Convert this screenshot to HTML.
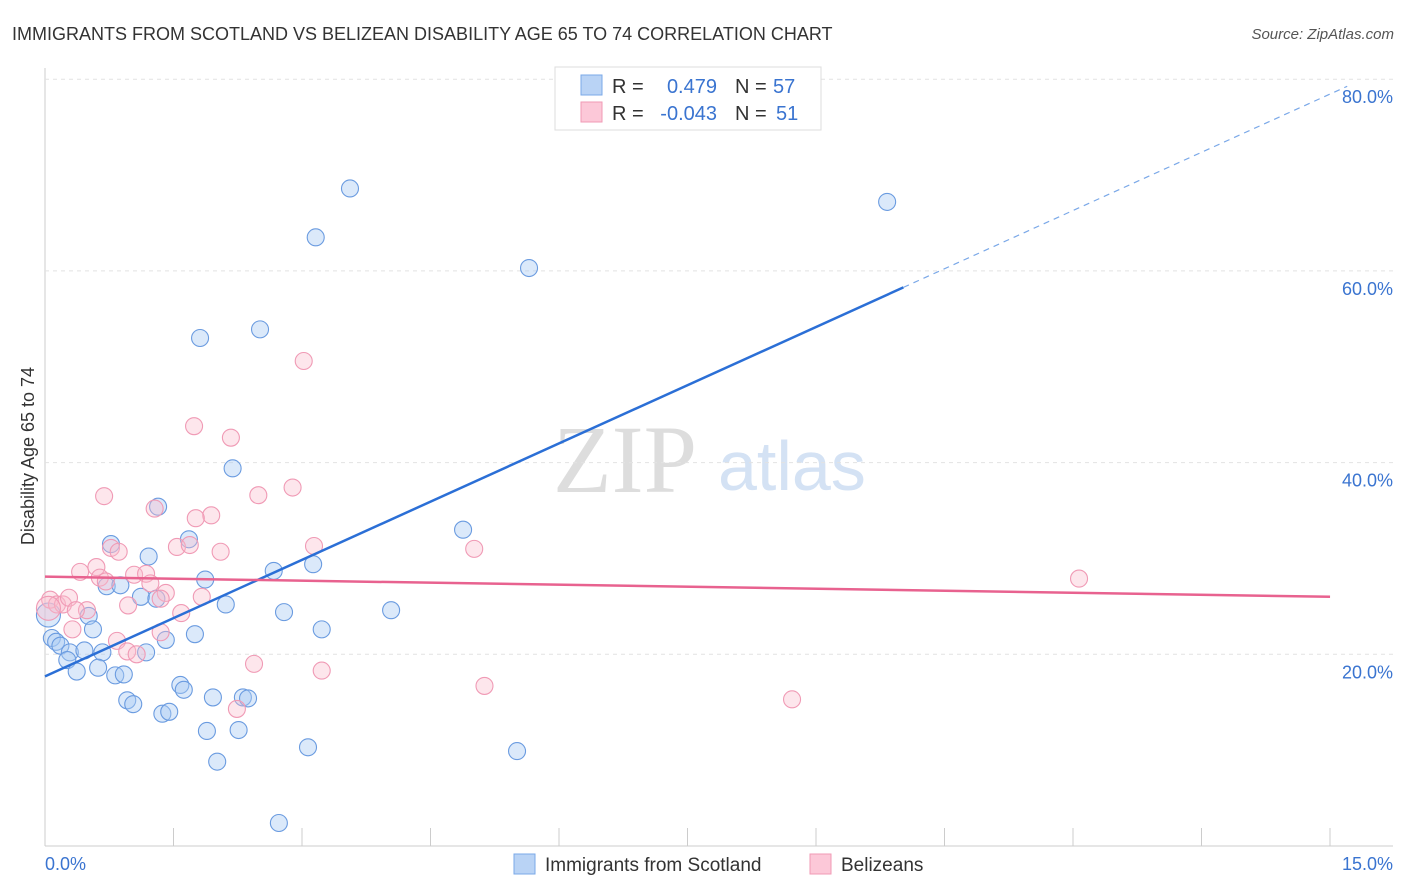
<!DOCTYPE html>
<html><head><meta charset="utf-8"><style>
body{margin:0;background:#fff;font-family:"Liberation Sans",sans-serif;}
svg{display:block}
</style></head><body>
<svg id="c" width="1406" height="892">
<text x="12" y="40" font-size="18" fill="#333">IMMIGRANTS FROM SCOTLAND VS BELIZEAN DISABILITY AGE 65 TO 74 CORRELATION CHART</text>
<text x="1394" y="39" font-size="15" fill="#555" font-style="italic" text-anchor="end">Source: ZipAtlas.com</text>
<text x="34" y="456" font-size="18" fill="#333" text-anchor="middle" transform="rotate(-90 34 456)">Disability Age 65 to 74</text>
<g><text x="553" y="492" font-family="Liberation Serif,serif" font-size="96" fill="#ddd">ZIP</text><text x="718" y="490" font-size="70" fill="#d4e2f4">atlas</text></g>
<g id="grid"></g><g id="pts"></g><g id="lines"></g>
<g>
<rect x="555" y="67" width="266" height="63" fill="#fff" stroke="#ddd"/>
<rect x="581" y="75" width="21" height="20" fill="#b9d3f5" stroke="#7aa8e8"/>
<rect x="581" y="102" width="21" height="20" fill="#fcc8d8" stroke="#f09ab5"/>
<text x="612" y="93" font-size="20" fill="#333">R =</text><text x="717" y="93" font-size="20" fill="#3a74d0" text-anchor="end">0.479</text>
<text x="735" y="93" font-size="20" fill="#333">N =</text><text x="773" y="93" font-size="20" fill="#3a74d0">57</text>
<text x="612" y="120" font-size="20" fill="#333">R =</text><text x="717" y="120" font-size="20" fill="#3a74d0" text-anchor="end">-0.043</text>
<text x="735" y="120" font-size="20" fill="#333">N =</text><text x="776" y="120" font-size="20" fill="#3a74d0">51</text>
</g>
<g>
<rect x="514" y="854" width="21" height="20" fill="#b9d3f5" stroke="#7aa8e8"/><text x="545" y="871" font-size="19" fill="#333">Immigrants from Scotland</text>
<rect x="810" y="854" width="21" height="20" fill="#fcc8d8" stroke="#f09ab5"/><text x="841" y="871" font-size="19" fill="#333">Belizeans</text>
</g>
</svg>
<script>
const yTicks=[20,40,60,80];
const xTickLabels=["0.0%","15.0%"];
const blueX=[3.56,3.16,9.83,5.65,1.81,2.51,2.19,4.88,1.32,0.77,1.68,1.21,2.67,3.13,0.72,0.88,1.87,1.12,1.30,2.11,2.79,4.04,0.51,0.56,3.23,1.75,1.41,0.08,0.13,0.18,0.29,0.46,0.67,1.18,0.26,0.37,0.62,0.82,0.92,1.58,1.62,0.96,1.03,1.96,2.31,2.37,1.37,1.45,1.89,2.26,3.07,5.51,2.01,2.73,0.04];
const blueY=[68.6,63.5,67.2,60.3,53.0,53.9,39.4,33.0,35.4,31.5,32.0,30.2,28.7,29.4,27.1,27.2,27.8,26.0,25.8,25.2,24.4,24.6,24.0,22.6,22.6,22.1,21.5,21.7,21.3,20.9,20.2,20.4,20.2,20.2,19.4,18.2,18.6,17.8,17.9,16.8,16.3,15.2,14.8,15.5,15.5,15.4,13.8,14.0,12.0,12.1,10.3,9.9,8.8,2.4,24.1];
const pinkX=[3.02,1.74,2.17,0.69,2.49,2.89,1.28,1.94,1.76,0.77,0.86,1.54,1.69,2.05,3.14,5.01,0.60,0.41,0.64,0.71,1.04,1.18,1.23,1.41,1.35,0.97,1.83,1.59,12.07,0.06,0.14,0.21,0.28,0.49,0.36,0.32,0.84,0.96,1.07,1.35,2.44,3.23,5.13,2.24,8.72,0.04];
const pinkY=[50.6,43.8,42.6,36.5,36.6,37.4,35.2,34.5,34.2,31.1,30.7,31.2,31.4,30.7,31.3,31.0,29.1,28.6,28.0,27.6,28.3,28.4,27.4,26.4,25.8,25.1,26.0,24.3,27.9,25.7,25.2,25.2,25.9,24.6,24.6,22.6,21.4,20.3,20.0,22.3,19.0,18.3,16.7,14.3,15.3,24.8];
const blueTrend=[17.7,4.05];
const pinkTrend=[28.1,-0.14];
const sx=v=>45+v*85.67, sy=v=>846-v*9.585;
const NS="http://www.w3.org/2000/svg";
function mk(p,t,a){const e=document.createElementNS(NS,t);for(const k in a)e.setAttribute(k,a[k]);p.appendChild(e);return e;}
const g=document.getElementById('grid');
mk(g,'line',{x1:45,y1:68,x2:45,y2:846,stroke:'#ccc'});
mk(g,'line',{x1:45,y1:846,x2:1393,y2:846,stroke:'#ccc'});
for(const t of yTicks){const l=mk(g,'line',{x1:45,y1:sy(t),x2:1393,y2:sy(t),stroke:'#e2e2e2','stroke-dasharray':'4,4'});


const tx=mk(g,'text',{x:1393,y:sy(t)+24,'font-size':18,fill:'#3a74d0','text-anchor':'end'});tx.textContent=t.toFixed(1)+'%';

}
for(let i=1;i<=10;i++){mk(g,'line',{x1:45+i*128.5,y1:828,x2:45+i*128.5,y2:846,stroke:'#ccc'});}
const x0=mk(g,'text',{x:45,y:870,'font-size':18,fill:'#3a74d0'});x0.textContent=xTickLabels[0];


const x1=mk(g,'text',{x:1393,y:870,'font-size':18,fill:'#3a74d0','text-anchor':'end'});x1.textContent=xTickLabels[1];


const P=document.getElementById('pts');
blueX.forEach((x,i)=>{const c=mk(P,'circle',{cx:sx(x),cy:sy(blueY[i]),r:i==blueX.length-1?12:8.5,fill:'rgba(170,202,242,0.42)',stroke:'#6a9be0','stroke-width':1.1});

});
pinkX.forEach((x,i)=>{const c=mk(P,'circle',{cx:sx(x),cy:sy(pinkY[i]),r:i==pinkX.length-1?12:8.5,fill:'rgba(250,188,206,0.38)',stroke:'#f09ab5','stroke-width':1.1});

});
const L=document.getElementById('lines');
const bl=mk(L,'line',{x1:sx(0),y1:sy(blueTrend[0]),x2:sx(10.02),y2:sy(blueTrend[0]+blueTrend[1]*10.02),stroke:'#2b6fd6','stroke-width':2.5});


const bd=mk(L,'line',{x1:sx(10.02),y1:sy(blueTrend[0]+blueTrend[1]*10.02),x2:sx(15.2),y2:sy(blueTrend[0]+blueTrend[1]*15.2),stroke:'#7aa8e8','stroke-width':1.2,'stroke-dasharray':'6,5'});


const pl=mk(L,'line',{x1:sx(0),y1:sy(pinkTrend[0]),x2:sx(15),y2:sy(pinkTrend[0]+pinkTrend[1]*15),stroke:'#e8628f','stroke-width':2.5});


</script>
</body></html>
